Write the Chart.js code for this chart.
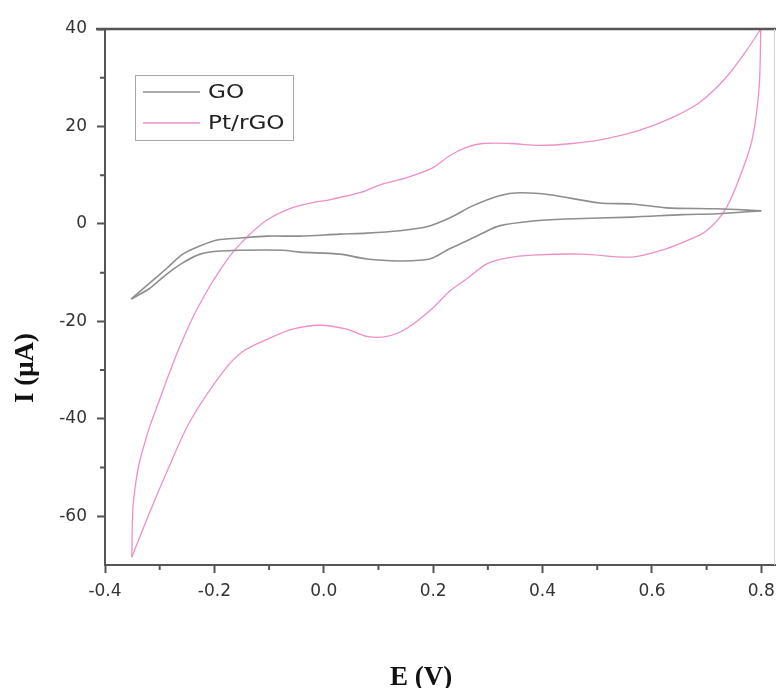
<!DOCTYPE html>
<html lang="en">
<head>
<meta charset="UTF-8">
<title>CV: GO and Pt/rGO</title>
<script src="https://cdn.jsdelivr.net/npm/chart.js@4.4.0/dist/chart.umd.min.js"></script>
<style>
  html, body { margin: 0; padding: 0; background: #fff; }
  #wrap { width: 776px; height: 688px; position: relative; }
</style>
</head>
<body>
<div id="wrap"><canvas id="cv"></canvas></div>
<script>
// potential (V) and current (uA), each sweep split into forward / reverse branch
const goFwdE = [-0.352, -0.318, -0.287, -0.258, -0.226, -0.195, -0.153, -0.104, -0.044, 0.029, 0.079, 0.139, 0.188, 0.230, 0.272, 0.321, 0.358, 0.413, 0.504, 0.564, 0.626, 0.718, 0.800];
const goFwdI = [-15.4, -12.1, -9.1, -6.2, -4.5, -3.3, -2.9, -2.5, -2.5, -2.1, -1.9, -1.4, -0.6, 1.2, 3.7, 5.8, 6.4, 6.0, 4.3, 4.1, 3.3, 3.1, 2.7];
const goRevE = [0.800, 0.718, 0.656, 0.564, 0.444, 0.382, 0.321, 0.290, 0.261, 0.230, 0.199, 0.181, 0.139, 0.079, 0.029, -0.044, -0.075, -0.153, -0.195, -0.226, -0.258, -0.287, -0.318, -0.352];
const goRevI = [2.7, 2.1, 1.9, 1.4, 1.0, 0.6, -0.4, -1.9, -3.5, -5.1, -7.0, -7.4, -7.6, -7.2, -6.2, -5.8, -5.4, -5.4, -5.6, -6.2, -8.0, -10.3, -13.2, -15.4];

const ptFwdE = [-0.351, -0.349, -0.343, -0.336, -0.327, -0.318, -0.300, -0.287, -0.270, -0.258, -0.240, -0.226, -0.210, -0.195, -0.180, -0.166, -0.150, -0.135, -0.104, -0.068, -0.031, 0.016, 0.066, 0.108, 0.152, 0.199, 0.230, 0.261, 0.290, 0.340, 0.395, 0.455, 0.517, 0.577, 0.637, 0.687, 0.736, 0.773, 0.799];
const ptFwdI = [-68.4, -58.5, -52.5, -48.5, -44.8, -41.5, -36.0, -32.0, -27.0, -23.8, -19.3, -16.3, -13.1, -10.4, -7.9, -5.8, -3.8, -2.1, 0.8, 2.9, 4.1, 5.1, 6.4, 8.2, 9.5, 11.5, 14.0, 15.7, 16.5, 16.5, 16.1, 16.5, 17.5, 19.2, 21.8, 24.9, 30.1, 35.6, 40.0];
const ptRevE = [0.799, 0.796, 0.784, 0.765, 0.736, 0.700, 0.663, 0.626, 0.564, 0.473, 0.382, 0.334, 0.298, 0.261, 0.230, 0.199, 0.152, 0.115, 0.079, 0.042, -0.007, -0.057, -0.104, -0.148, -0.184, -0.245, -0.287, -0.318, -0.351];
const ptRevI = [40.0, 28.0, 17.7, 10.9, 3.3, -1.4, -3.5, -5.1, -6.8, -6.2, -6.4, -7.0, -8.2, -11.3, -13.8, -17.3, -21.4, -23.1, -23.1, -21.6, -20.8, -21.6, -23.7, -26.2, -30.3, -40.6, -50.9, -59.1, -68.4];

const xTicks = [-0.4, -0.2, 0.0, 0.2, 0.4, 0.6, 0.8];
const xMinor = [-0.3, -0.1, 0.1, 0.3, 0.5, 0.7];
const yTicks = [-60, -40, -20, 0, 20, 40];
const yMinor = [-50, -30, -10, 10, 30];

const GO_COLOR = '#8e8e8e';
const PT_COLOR = '#ef8fc9';

const pts = (xs, ys) => xs.map((v, i) => ({ x: v, y: ys[i] }));

function branch(label, xs, ys, color, width) {
  return {
    label: label,
    data: pts(xs, ys),
    showLine: true,
    borderColor: color,
    borderWidth: width,
    pointRadius: 0,
    tension: 0.3,
    fill: false
  };
}

// outer frame, minor ticks and axis titles
const frame = {
  id: 'frame',
  afterDraw(chart) {
    const { ctx, chartArea: a, scales } = chart;
    const x = scales.x, y = scales.y;
    ctx.save();
    ctx.strokeStyle = '#555';
    ctx.lineWidth = 2.5;
    ctx.beginPath();
    ctx.moveTo(a.left - 9, a.top);
    ctx.lineTo(a.right + 2, a.top);
    ctx.stroke();

    ctx.strokeStyle = '#d4d4d4';
    ctx.lineWidth = 1;
    ctx.beginPath();
    ctx.moveTo(a.right - 0.5, a.top);
    ctx.lineTo(a.right - 0.5, a.bottom);
    ctx.stroke();

    ctx.strokeStyle = '#555';
    ctx.lineWidth = 2;
    ctx.beginPath();
    xMinor.forEach(v => {
      const px = x.getPixelForValue(v);
      ctx.moveTo(px, a.bottom);
      ctx.lineTo(px, a.bottom + 5);
    });
    yMinor.forEach(v => {
      const py = y.getPixelForValue(v);
      ctx.moveTo(a.left, py);
      ctx.lineTo(a.left - 5, py);
    });
    ctx.stroke();

    ctx.fillStyle = '#111';
    ctx.font = 'bold 27px "Liberation Serif", "Times New Roman", serif';
    ctx.textAlign = 'center';
    ctx.textBaseline = 'alphabetic';
    ctx.fillText('E (V)', 421, 685);

    ctx.translate(33, 368);
    ctx.rotate(-Math.PI / 2);
    ctx.fillText('I (\u03bcA)', 0, 0);
    ctx.restore();
  }
};

// boxed legend in the upper left of the plot
const legendBox = {
  id: 'legendBox',
  afterDraw(chart) {
    const ctx = chart.ctx;
    const seen = [];
    chart.data.datasets.forEach(d => {
      if (!seen.find(s => s.label === d.label)) seen.push(d);
    });
    ctx.save();
    ctx.strokeStyle = '#a8a8a8';
    ctx.lineWidth = 1;
    ctx.strokeRect(135.5, 75.5, 158, 65);
    ctx.font = '19px "DejaVu Sans", sans-serif';
    ctx.fillStyle = '#222';
    ctx.textBaseline = 'middle';
    seen.forEach((d, i) => {
      const ly = 92 + i * 31;
      ctx.strokeStyle = d.borderColor;
      ctx.lineWidth = d.borderWidth;
      ctx.beginPath();
      ctx.moveTo(143, ly);
      ctx.lineTo(200, ly);
      ctx.stroke();
      ctx.save();
      ctx.translate(208, ly + 1);
      ctx.scale(1.22, 1);
      ctx.fillText(d.label, 0, 0);
      ctx.restore();
    });
    ctx.restore();
  }
};

const tickFont = { family: '"DejaVu Sans", sans-serif', size: 17 };

// drop the label overhang padding so the plot keeps its fixed frame
const noOverhang = s => {
  s.paddingLeft = 0; s.paddingRight = 0;
  s.paddingTop = 0; s.paddingBottom = 0;
};

new Chart(document.getElementById('cv'), {
  type: 'scatter',
  data: {
    datasets: [
      branch('GO', goFwdE, goFwdI, GO_COLOR, 1.6),
      branch('GO', goRevE, goRevI, GO_COLOR, 1.6),
      branch('Pt/rGO', ptFwdE, ptFwdI, PT_COLOR, 1.3),
      branch('Pt/rGO', ptRevE, ptRevI, PT_COLOR, 1.3)
    ]
  },
  options: {
    responsive: true,
    maintainAspectRatio: false,
    animation: false,
    layout: { padding: { left: 58, top: 29, right: 1, bottom: 83 } },
    plugins: { legend: { display: false }, tooltip: { enabled: false } },
    scales: {
      x: {
        type: 'linear',
        min: -0.4,
        max: 0.825,
        afterBuildTicks: s => { s.ticks = xTicks.map(v => ({ value: v })); },
        afterFit: s => { s.height = 40; noOverhang(s); },
        ticks: { callback: v => v.toFixed(1), font: tickFont, color: '#333', padding: 8, maxRotation: 0, autoSkip: false },
        grid: { drawOnChartArea: false, tickLength: 8, tickWidth: 2, tickColor: '#555' },
        border: { color: '#555', width: 2 }
      },
      y: {
        type: 'linear',
        min: -70,
        max: 40,
        afterBuildTicks: s => { s.ticks = yTicks.map(v => ({ value: v })); },
        afterFit: s => { s.width = 47; noOverhang(s); },
        ticks: { callback: v => String(v), font: tickFont, color: '#333', padding: 10, autoSkip: false },
        grid: { drawOnChartArea: false, tickLength: 8, tickWidth: 2, tickColor: '#555' },
        border: { color: '#555', width: 2 }
      }
    }
  },
  plugins: [frame, legendBox]
});
</script>
</body>
</html>
